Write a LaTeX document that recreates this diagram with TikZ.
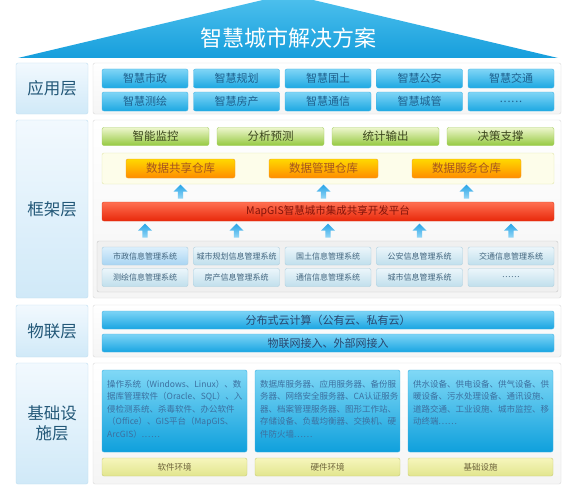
\documentclass[tikz,border=0pt]{standalone}
\usepackage{fontspec}
\setmainfont{Noto Sans CJK SC}
\usetikzlibrary{shapes.arrows}
\newcommand\mysixdots{.\kern0.8pt.\kern0.8pt.\kern0.8pt.\kern0.8pt.\kern0.8pt.}
\definecolor{lbltext}{RGB}{35,88,120}
\definecolor{lbltop}{RGB}{242,249,254}
\definecolor{lblbot}{RGB}{208,233,248}
\definecolor{lbldraw}{RGB}{190,222,240}
\definecolor{boxdraw}{RGB}{218,218,218}
\definecolor{appTop}{RGB}{128,213,246}
\definecolor{appBot}{RGB}{28,168,226}
\definecolor{appDraw}{RGB}{70,180,228}
\definecolor{appText}{RGB}{30,95,140}
\definecolor{grTop}{RGB}{238,246,205}
\definecolor{grBot}{RGB}{148,201,64}
\definecolor{grDraw}{RGB}{165,205,95}
\definecolor{grText}{RGB}{60,70,30}
\definecolor{crFill}{RGB}{253,253,234}
\definecolor{crDraw}{RGB}{225,230,170}
\definecolor{orTop}{RGB}{255,216,0}
\definecolor{orBot}{RGB}{255,140,0}
\definecolor{orDraw}{RGB}{240,155,40}
\definecolor{orText}{RGB}{165,85,30}
\definecolor{rdTop}{RGB}{255,112,82}
\definecolor{rdBot}{RGB}{232,40,10}
\definecolor{rdDraw}{RGB}{222,62,30}
\definecolor{rdText}{RGB}{130,20,10}
\definecolor{arTop}{RGB}{40,165,232}
\definecolor{arBot}{RGB}{150,215,246}
\definecolor{syFill}{RGB}{240,240,240}
\definecolor{syDraw}{RGB}{200,200,200}
\definecolor{sbTop}{RGB}{236,246,251}
\definecolor{sbBot}{RGB}{192,223,236}
\definecolor{sbDraw}{RGB}{172,206,222}
\definecolor{sbText}{RGB}{65,100,125}
\definecolor{hlTop}{RGB}{220,239,252}
\definecolor{hlBot}{RGB}{168,212,242}
\definecolor{clTop}{RGB}{125,212,246}
\definecolor{clBot}{RGB}{25,165,226}
\definecolor{clText}{RGB}{40,70,110}
\definecolor{ifTop}{RGB}{128,216,246}
\definecolor{ifBot}{RGB}{15,160,220}
\definecolor{ifDraw}{RGB}{60,175,225}
\definecolor{ifText}{RGB}{60,112,160}
\definecolor{ylTop}{RGB}{246,246,188}
\definecolor{ylBot}{RGB}{226,229,142}
\definecolor{ylDraw}{RGB}{200,205,120}
\definecolor{ylText}{RGB}{110,100,60}
\definecolor{roofTop}{RGB}{80,194,238}
\definecolor{roofBot}{RGB}{22,158,220}
\tikzset{
  labelbox/.style={draw=lbldraw, top color=lbltop, bottom color=lblbot, rounded corners=2pt,
    minimum width=72pt, inner sep=0pt, text=lbltext, font=\fontsize{16.5}{20}\selectfont, align=center},
  contentbox/.style={draw=boxdraw, top color=white, bottom color=black!4, rounded corners=2pt,
    minimum width=468pt, inner sep=0pt},
  appbtn/.style={draw=appDraw, top color=appTop, bottom color=appBot, rounded corners=2pt,
    minimum width=86pt, minimum height=19pt, inner sep=0pt, text=appText, font=\fontsize{11}{13}\selectfont},
  greenbtn/.style={draw=grDraw, top color=grTop, bottom color=grBot, rounded corners=2pt,
    minimum width=107pt, minimum height=18pt, inner sep=0pt, text=grText, font=\fontsize{11.5}{13}\selectfont},
  orangebtn/.style={draw=orDraw, top color=orTop, bottom color=orBot, rounded corners=2pt,
    minimum width=109pt, minimum height=19pt, inner sep=0pt, text=orText, font=\fontsize{11.5}{13}\selectfont},
  uparrow/.style={single arrow, shape border rotate=90, top color=arTop, bottom color=arBot, draw=none,
    minimum height=14pt, minimum width=14pt, inner sep=2pt, single arrow head extend=3.5pt},
  sysbtn/.style={draw=sbDraw, top color=sbTop, bottom color=sbBot, rounded corners=2pt,
    minimum width=86pt, minimum height=18pt, inner sep=0pt, text=sbText, font=\fontsize{8}{10}\selectfont},
  cloudbar/.style={draw=appDraw, top color=clTop, bottom color=clBot, rounded corners=2pt,
    minimum width=452pt, minimum height=18pt, inner sep=0pt, text=clText, font=\fontsize{11}{13}\selectfont},
  infobox/.style={draw=ifDraw, top color=ifTop, bottom color=ifBot, rounded corners=2pt,
    minimum width=145pt, minimum height=82pt, inner sep=0pt},
  infotext/.style={anchor=north west, align=left, inner sep=0pt, text=ifText, font=\fontsize{8.5}{12.5}\selectfont},
  yellowbtn/.style={draw=ylDraw, top color=ylTop, bottom color=ylBot, rounded corners=2pt,
    minimum width=145pt, minimum height=18pt, inner sep=0pt, text=ylText, font=\fontsize{8.5}{10}\selectfont},
}
\begin{document}
\begin{tikzpicture}[x=1pt,y=-1pt]
\useasboundingbox (0,0) rectangle (586,487);
\fill[white] (0,0) rectangle (586,487);
\begin{scope}
  \clip (0,0) rectangle (586,487);
  \shade[top color=roofTop, bottom color=roofBot] (18,58) -- (288,-6) -- (558,58) -- cycle;
\end{scope}
\node[text=white, font=\fontsize{22}{26}\selectfont] (title) at (288,38) {智慧城市解决方案};

% layer labels
\node[labelbox, minimum height=51pt] (lapp) at (52,88.5) {应用层};
\node[labelbox, minimum height=178pt] (lfw) at (52,209) {框架层};
\node[labelbox, minimum height=52pt] (liot) at (52,331) {物联层};
\node[labelbox, minimum height=121pt] (linf) at (52,423.5) {基础设\\施层};

% content boxes
\node[contentbox, minimum height=51pt] (capp) at (327,88.5) {};
\node[contentbox, minimum height=178pt] (cfw) at (327,209) {};
\node[contentbox, minimum height=52pt] (ciot) at (327,331) {};
\node[contentbox, minimum height=121pt] (cinf) at (327,423.5) {};

% application layer
\foreach \t [count=\i from 0] in {智慧市政,智慧规划,智慧国土,智慧公安,智慧交通}
  \node[appbtn] (ap1\i) at ({145+91.5*\i},78.5) {\t};
\foreach \t [count=\i from 0] in {智慧测绘,智慧房产,智慧通信,智慧城管,\mysixdots}
  \node[appbtn] (ap2\i) at ({145+91.5*\i},101.5) {\t};

% framework layer
\foreach \t [count=\i from 0] in {智能监控,分析预测,统计输出,决策支撑}
  \node[greenbtn] (gr\i) at ({155.5+115*\i},136.5) {\t};
\node[draw=crDraw, fill=crFill, rounded corners=2pt, minimum width=452pt, minimum height=31pt, inner sep=0pt] (cream) at (328,168.5) {};
\node[orangebtn] (or0) at (180.5,168.5) {数据共享仓库};
\node[orangebtn] (or1) at (323.5,168.5) {数据管理仓库};
\node[orangebtn] (or2) at (466.5,168.5) {数据服务仓库};
\node[draw=rdDraw, top color=rdTop, bottom color=rdBot, rounded corners=2pt, minimum width=452pt,
  minimum height=19pt, inner sep=0pt, text=rdText, font=\fontsize{10.5}{12}\selectfont] (red) at (328,211.5) {MapGIS智慧城市集成共享开发平台};
\foreach \x [count=\i from 0] in {180.5,323.5,466.5}
  \node[uparrow] (ua\i) at (\x,193) {};
\foreach \x [count=\i from 0] in {145,236.5,328,419.5,511}
  \node[uparrow] (la\i) at (\x,232) {};
\node[draw=syDraw, fill=syFill, rounded corners=2pt, minimum width=461pt, minimum height=51pt, inner sep=0pt] (sys) at (327.5,266.5) {};
\node[sysbtn, top color=hlTop, bottom color=hlBot] (sy10) at (145,256) {市政信息管理系统};
\foreach \t [count=\i from 1] in {城市规划信息管理系统,国土信息管理系统,公安信息管理系统,交通信息管理系统}
  \node[sysbtn] (sy1\i) at ({145+91.5*\i},256) {\t};
\foreach \t [count=\i from 0] in {测绘信息管理系统,房产信息管理系统,通信信息管理系统,城市信息管理系统,\mysixdots}
  \node[sysbtn] (sy2\i) at ({145+91.5*\i},277.5) {\t};

% IoT layer
\node[cloudbar] (cloud) at (328,320) {分布式云计算（公有云、私有云）};
\node[cloudbar] (net) at (328,343) {物联网接入、外部网接入};

% infrastructure layer
\node[infobox] (ib0) at (174.5,411) {};
\node[infobox] (ib1) at (327.5,411) {};
\node[infobox] (ib2) at (480.5,411) {};
\node[infotext] (it0) at (107,380) {操作系统（Windows、Linux）、数\\据库管理软件（Oracle、SQL）、入\\侵检测系统、杀毒软件、办公软件\\（Office）、GIS平台（MapGIS、\\ArcGIS）\mysixdots};
\node[infotext] (it1) at (260,380) {数据库服务器、应用服务器、备份服\\务器、网络安全服务器、CA认证服务\\器、档案管理服务器、图形工作站、\\存储设备、负载均衡器、交换机、硬\\件防火墙\mysixdots};
\node[infotext] (it2) at (413,380) {供水设备、供电设备、供气设备、供\\暖设备、污水处理设备、通讯设施、\\道路交通、工业设施、城市监控、移\\动终端\mysixdots};
\node[yellowbtn] (yb0) at (174.5,467) {软件环境};
\node[yellowbtn] (yb1) at (327.5,467) {硬件环境};
\node[yellowbtn] (yb2) at (480.5,467) {基础设施};
\end{tikzpicture}
\end{document}
